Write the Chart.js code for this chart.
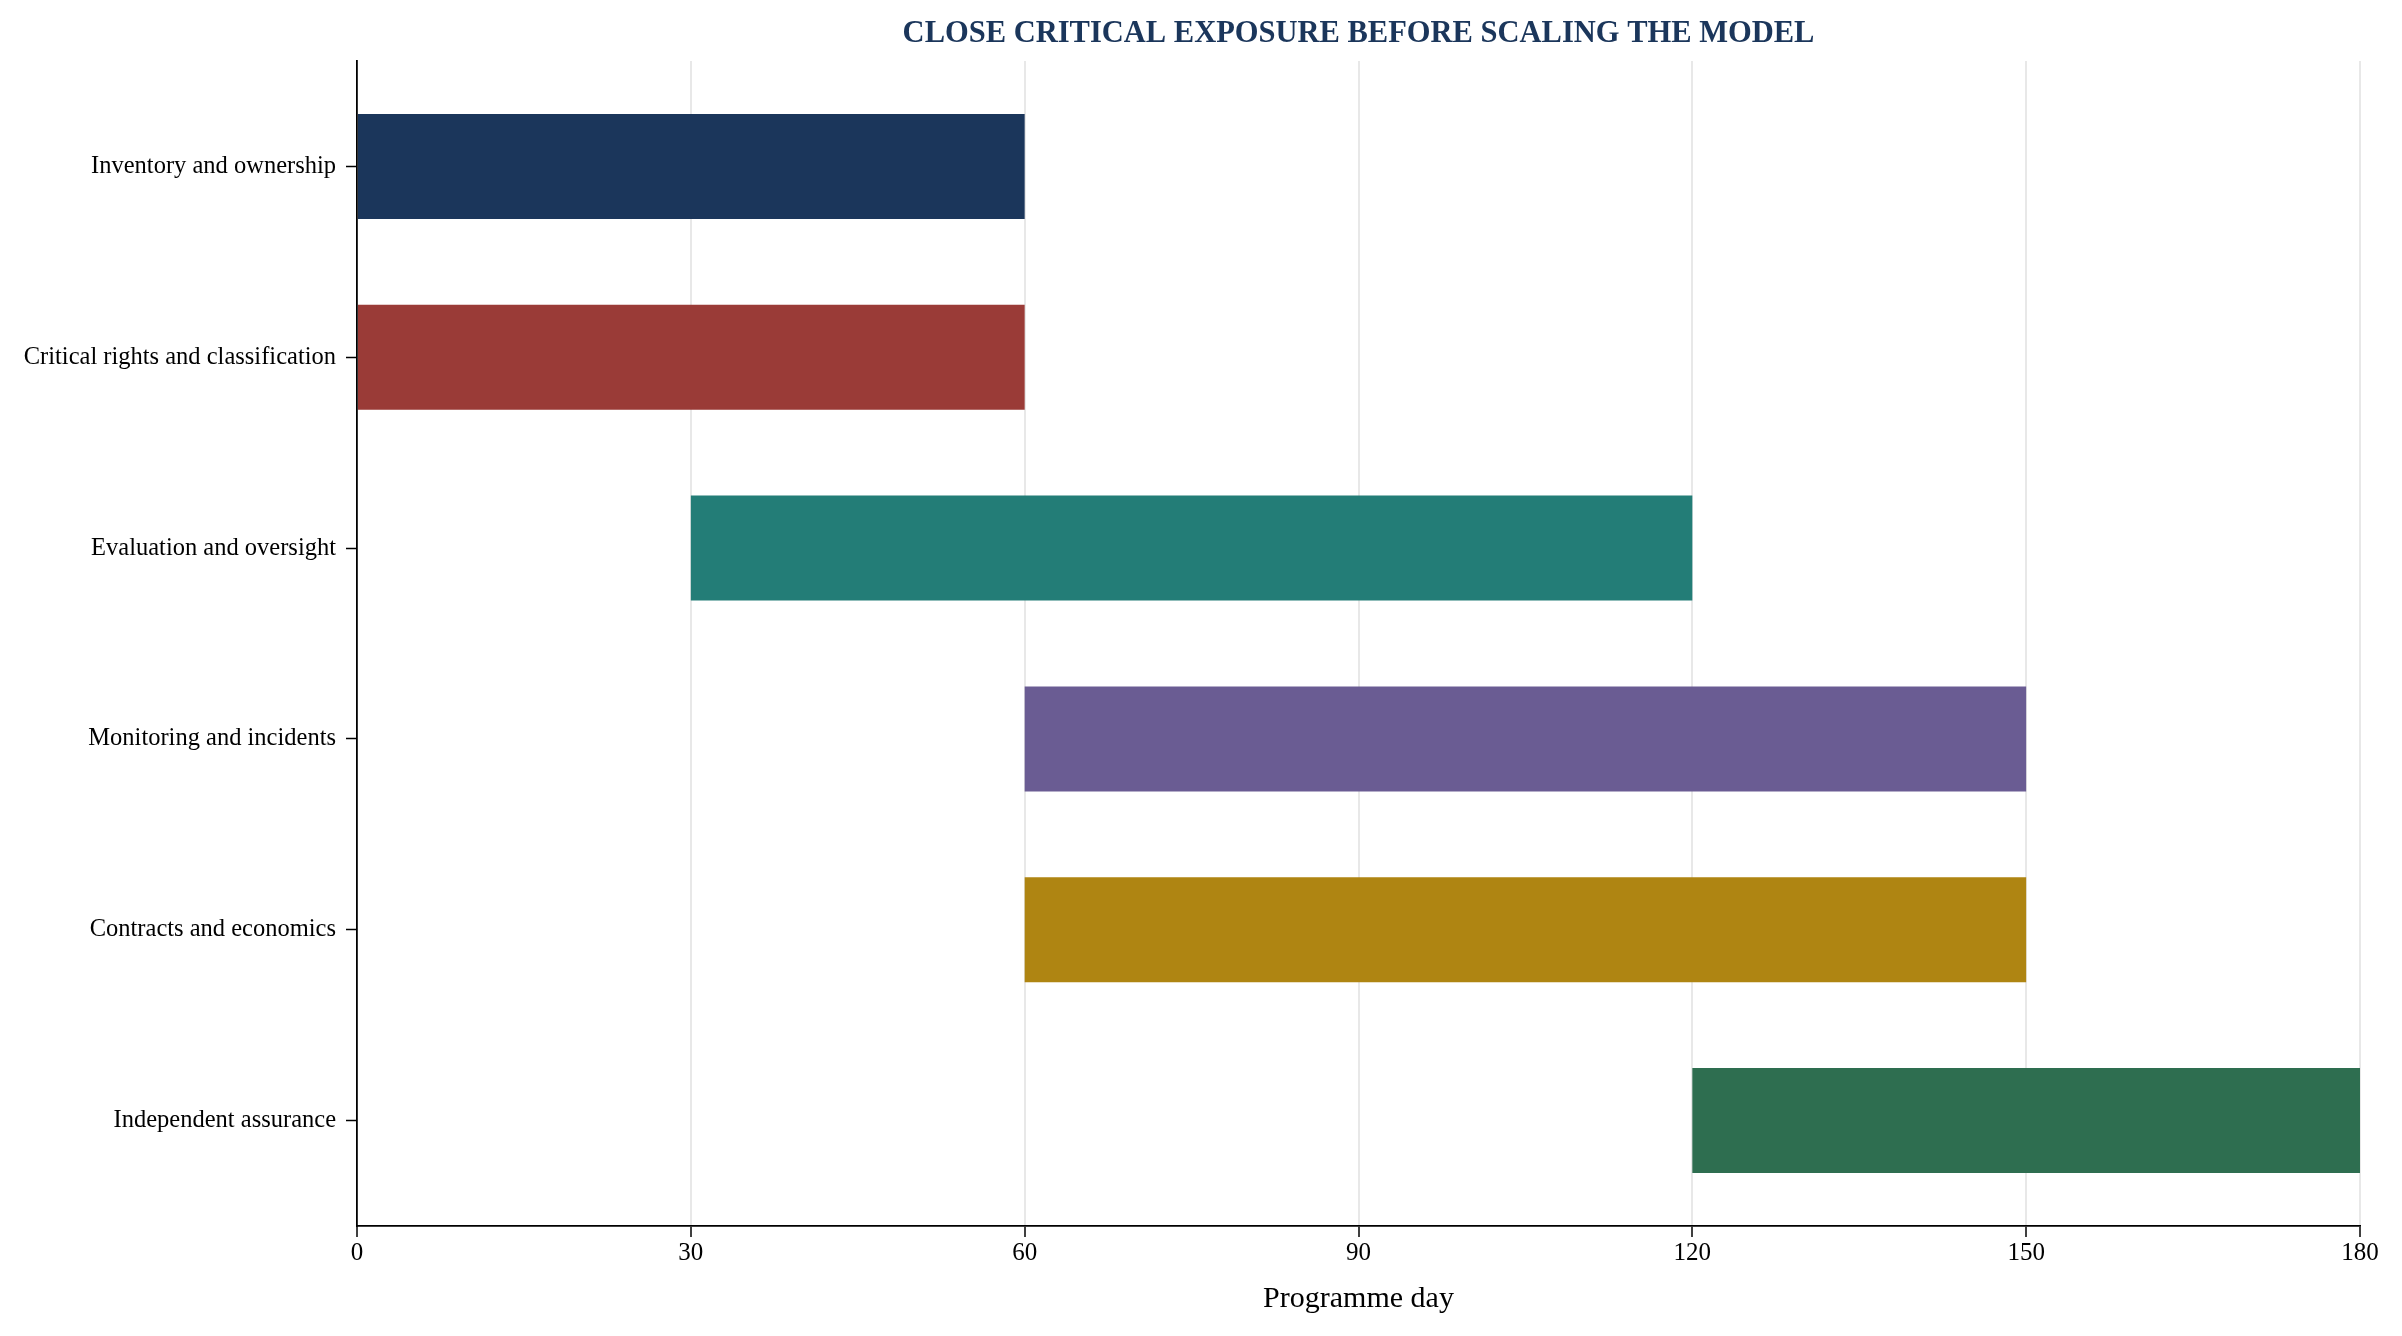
<!DOCTYPE html>
<html>
<head>
<meta charset="utf-8">
<script src="https://cdn.jsdelivr.net/npm/chart.js@4"></script>
<style>
  html, body { margin: 0; padding: 0; background: #fff; }
  #wrap { width: 2402px; height: 1336px; }
</style>
</head>
<body>
<div id="wrap"><canvas id="gantt"></canvas></div>
<script>
// workstreams, top to bottom
const workstreams = [
  'Inventory and ownership',
  'Critical rights and classification',
  'Evaluation and oversight',
  'Monitoring and incidents',
  'Contracts and economics',
  'Independent assurance'
];
const startDay = [0, 0, 30, 60, 60, 120];
const endDay = [60, 60, 120, 150, 150, 180];
const barColors = ['#1b365b', '#9a3b37', '#237d77', '#6a5c93', '#af8512', '#2e6e50'];
const dayTicks = [0, 30, 60, 90, 120, 150, 180];

const SERIF = '"Liberation Serif", "Times New Roman", serif';

const titlePlugin = {
  id: 'plotTitle',
  afterDraw(chart) {
    const c = chart.ctx;
    const a = chart.chartArea;
    c.save();
    c.font = 'bold 30.5px ' + SERIF;
    c.fillStyle = '#1b365b';
    c.textAlign = 'center';
    c.textBaseline = 'middle';
    c.fillText('CLOSE CRITICAL EXPOSURE BEFORE SCALING THE MODEL', (a.left + a.right) / 2, 34);
    c.restore();
  }
};

new Chart(document.getElementById('gantt').getContext('2d'), {
  type: 'bar',
  data: {
    datasets: [{
      data: workstreams.map((_, i) => ({ x: [startDay[i], endDay[i]], y: i })),
      backgroundColor: barColors,
      borderWidth: 0,
      categoryPercentage: 1,
      barPercentage: 0.55
    }]
  },
  options: {
    indexAxis: 'y',
    responsive: true,
    maintainAspectRatio: false,
    animation: false,
    layout: { padding: { top: 61, right: 42, left: 0, bottom: 19 } },
    plugins: {
      legend: { display: false },
      tooltip: { enabled: false }
    },
    scales: {
      x: {
        type: 'linear',
        min: 0,
        max: 180,
        z: 1,
        afterBuildTicks(axis) { axis.ticks = dayTicks.map(v => ({ value: v })); },
        afterFit(axis) { axis.height = 91; },
        grid: {
          color: ctx => (ctx.tick && ctx.tick.value === 0) ? 'rgba(0,0,0,0)' : 'rgba(185,185,185,0.32)',
          lineWidth: 2,
          tickColor: '#000',
          tickLength: 11,
          tickWidth: 1.5
        },
        border: { display: true, color: '#000', width: 1.8 },
        ticks: {
          color: '#000',
          font: { family: SERIF, size: 25 },
          padding: 1,
          maxRotation: 0
        },
        title: {
          display: true,
          text: 'Programme day',
          color: '#000',
          font: { family: SERIF, size: 30 },
          padding: { top: 0, bottom: 0 }
        }
      },
      y: {
        type: 'linear',
        reverse: true,
        offset: false,
        min: -0.5525,
        max: 5.5525,
        afterBuildTicks(axis) { axis.ticks = workstreams.map((_, i) => ({ value: i })); },
        afterFit(axis) { axis.width = 357; },
        grid: {
          offset: false,
          drawOnChartArea: false,
          drawTicks: true,
          tickColor: '#000',
          tickLength: 11,
          tickWidth: 1.5
        },
        border: { display: true, color: '#000', width: 1.8 },
        ticks: {
          color: '#000',
          font: { family: SERIF, size: 24.5 },
          padding: 10,
          callback: v => workstreams[v] || ''
        }
      }
    }
  },
  plugins: [titlePlugin]
});
</script>
</body>
</html>
